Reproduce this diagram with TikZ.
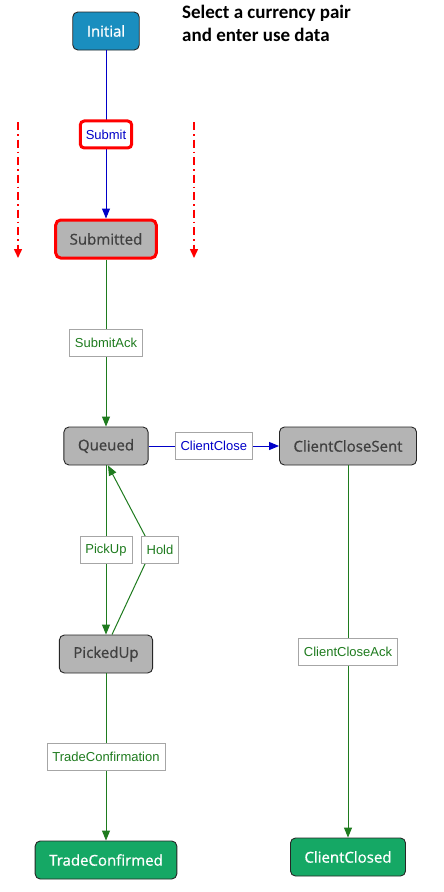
\documentclass[tikz,border=0pt]{standalone}
\usepackage{fontspec}
\newfontfamily\statefont[FakeBold=0.8]{Open Sans}
\newfontfamily\edgefont{Liberation Sans}
\newfontfamily\notefont{Carlito}
\usetikzlibrary{arrows.meta}
\definecolor{initblue}{HTML}{1A8EBF}
\definecolor{stategray}{HTML}{B4B4B4}
\definecolor{donegreen}{HTML}{15A865}
\definecolor{edgegreen}{HTML}{1E7B1E}
\definecolor{edgeblue}{HTML}{0000C8}
\definecolor{hilite}{HTML}{FF0000}
\tikzset{
  state/.style={draw=black!85,line width=0.9pt,rounded corners=5pt,fill=stategray,
    text=black!75,font=\statefont\fontsize{15}{17}\selectfont,
    minimum height=38pt,inner xsep=14pt},
  start/.style={state,fill=initblue,text=white},
  final/.style={state,fill=donegreen,text=white},
  lbl/.style={draw=black!35,fill=white,line width=0.8pt,
    font=\edgefont\fontsize{13}{15}\selectfont,minimum height=27pt,inner xsep=5.5pt},
  gline/.style={draw=edgegreen,line width=1pt,-{Triangle[length=10pt,width=8pt]}},
  bline/.style={draw=edgeblue,line width=1pt,-{Triangle[length=10pt,width=8pt]}},
  redflow/.style={draw=hilite,line width=1.5pt,dash pattern=on 8pt off 4pt on 1.5pt off 4pt,
    -{Triangle[length=9pt,width=8pt]}}
}
\begin{document}
\begin{tikzpicture}[x=1pt,y=-1pt]
  \useasboundingbox (0,0) rectangle (444,892);
  % states
  \node[start] (initial) at (106,31) {Initial};
  \node[state,draw=hilite,line width=3pt] (submitted) at (106,239) {Submitted};
  \node[state] (queued) at (106,446) {Queued};
  \node[state] (closesent) at (348,446) {ClientCloseSent};
  \node[state] (pickedup) at (106,654) {PickedUp};
  \node[final] (confirmed) at (106,860) {TradeConfirmed};
  \node[final] (closed) at (348,857) {ClientClosed};
  % note
  \node[anchor=north west,align=left,inner sep=0pt,
    font=\notefont\bfseries\fontsize{19}{23}\selectfont] (note) at (182,5)
    {Select a currency pair\\and enter use data};
  % transitions
  \draw[bline] (initial) -- node[lbl,text=edgeblue,draw=hilite,line width=3pt,
    rounded corners=4pt] (submit) {Submit} (submitted);
  \draw[gline] (submitted) -- node[lbl,text=edgegreen] (ack) {SubmitAck} (queued);
  \draw[bline] (queued) -- node[lbl,text=edgeblue] (clientclose) {ClientClose} (closesent);
  \draw[gline] (queued) -- node[lbl,text=edgegreen] (pickup) {PickUp} (pickedup);
  \coordinate (bend) at (152,549);
  \draw[gline] ([xshift=6pt]pickedup.north) -- (bend) -- ([xshift=2pt]queued.south);
  \node[lbl,text=edgegreen] (hold) at (160,550) {Hold};
  \draw[gline] (closesent) -- node[lbl,text=edgegreen] (closeack) {ClientCloseAck} (closed);
  \draw[gline] (pickedup) -- node[lbl,text=edgegreen] (confirmation) {TradeConfirmation} (confirmed);
  % red flow markers
  \coordinate (l1) at (18,122); \coordinate (l2) at (18,258);
  \coordinate (r1) at (194,122); \coordinate (r2) at (194,258);
  \draw[redflow] (l1) -- (l2);
  \draw[redflow] (r1) -- (r2);
\end{tikzpicture}
\end{document}
